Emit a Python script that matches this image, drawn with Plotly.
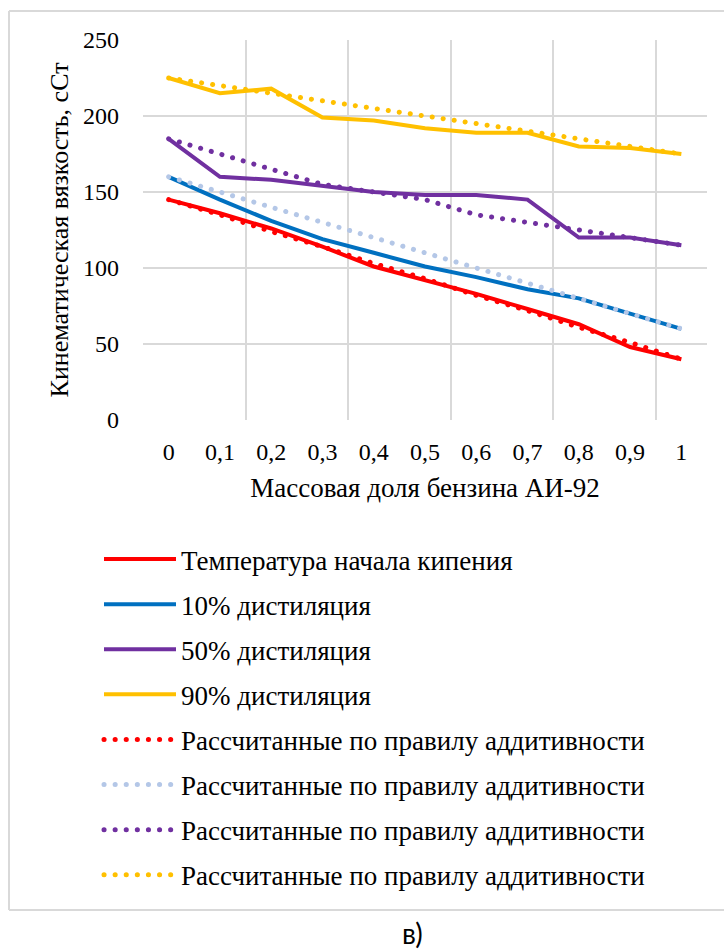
import plotly.graph_objects as go

categories = ["0", "0,1", "0,2", "0,3", "0,4", "0,5", "0,6", "0,7", "0,8", "0,9", "1"]

ibp_exp = [145, 136, 126, 114, 101, 92, 83, 73, 63, 48, 40]
d10_exp = [160, 145, 131, 119, 110, 101, 94, 86, 80, 70, 60]
d50_exp = [185, 160, 158, 154, 150, 148, 148, 145, 120, 120, 115]
d90_exp = [225, 215, 218, 199, 197, 192, 189, 189, 180, 179, 175]

ibp_calc = [145, 135, 124, 114, 103, 93, 82, 72, 61, 51, 40]
d10_calc = [160, 150, 140, 130, 120, 110, 100, 90, 80, 70, 60]
d50_calc = [185, 175, 165, 155, 150, 145, 135, 130, 125, 120, 115]
d90_calc = [225, 220, 215, 210, 205, 200, 195, 190, 185, 180, 175]

y_ticks = [0, 50, 100, 150, 200, 250]

solid_names = ["Температура начала кипения", "10% дистиляция", "50% дистиляция", "90% дистиляция"]
calc_name = "Рассчитанные по правилу аддитивности"

FONT = "Times New Roman, Liberation Serif, DejaVu Serif, serif"
x_idx = list(range(len(categories)))

fig = go.Figure()
solid_series = [ibp_exp, d10_exp, d50_exp, d90_exp]
solid_colors = ["#FF0000", "#0070C0", "#7030A0", "#FFC000"]
for i, (ys, name, col) in enumerate(zip(solid_series, solid_names, solid_colors)):
    fig.add_trace(go.Scatter(x=x_idx, y=ys, mode="lines", name=name,
                             line=dict(color=col, width=4), legendgroup=f"g{i}"))

calc_series = [ibp_calc, d10_calc, d50_calc, d90_calc]
calc_colors = ["#FF0000", "#B4C7E7", "#7030A0", "#FFC000"]
for i, (ys, col) in enumerate(zip(calc_series, calc_colors)):
    fig.add_trace(go.Scatter(x=x_idx, y=ys, mode="lines", name=calc_name,
                             line=dict(color=col, width=5, dash="5px,6px"),
                             legendgroup=f"c{i}"))

def px_x(p):
    return (p - 143) / 564.0

def px_y(p):
    return (420 - p) / 380.0

fig.update_layout(
    width=724, height=950,
    margin=dict(l=143, r=17, t=40, b=530),
    paper_bgcolor="white", plot_bgcolor="white",
    font=dict(family=FONT, size=24, color="black"),
    showlegend=True,
    legend=dict(x=px_x(99), y=px_y(535), xanchor="left", yanchor="top",
                traceorder="grouped", tracegroupgap=7, itemwidth=72,
                font=dict(family=FONT, size=27, color="black"),
                bgcolor="rgba(0,0,0,0)", borderwidth=0),
    xaxis=dict(range=[-0.5, 10.5], tickvals=x_idx, ticktext=categories,
               showgrid=False, zeroline=False, showline=False, ticks="",
               ticklabelstandoff=15, tickfont=dict(size=24),
               minor=dict(tickvals=[-0.5, 1.5, 3.5, 5.5, 7.5, 9.5], showgrid=True,
                          gridcolor="#D9D9D9", gridwidth=2),
               title=dict(text="Массовая доля бензина АИ-92", standoff=14,
                          font=dict(family=FONT, size=27))),
    yaxis=dict(range=[0, 250], tickvals=y_ticks, showgrid=True, gridcolor="#D9D9D9",
               gridwidth=2, zeroline=False, showline=False, ticks="",
               ticklabelstandoff=23, tickfont=dict(size=24),
               title=dict(text="Кинематическая вязкость, сСт", standoff=6,
                          font=dict(family=FONT, size=26))),
)

# white strip right of the plot area (keeps the right margin clean)
fig.add_shape(type="rect", xref="paper", yref="paper",
              x0=px_x(708), x1=px_x(730), y0=px_y(960), y1=px_y(-10),
              line=dict(width=0), fillcolor="white", layer="above")

frame_col = "#D9D9D9"
for (x0, y0, x1, y1) in [(9, 11, 724, 11), (9, 11, 9, 910), (9, 910, 724, 910)]:
    fig.add_shape(type="line", xref="paper", yref="paper",
                  x0=px_x(x0), x1=px_x(x1), y0=px_y(y0), y1=px_y(y1),
                  line=dict(color=frame_col, width=2), layer="above")

fig.add_annotation(text="в)", xref="paper", yref="paper", x=px_x(412), y=px_y(933),
                   showarrow=False, font=dict(family="Lato", size=28, color="black"),
                   xanchor="center", yanchor="middle")

post = """
document.documentElement.style.overflow = 'hidden';
document.documentElement.style.margin = '0';
document.body.style.margin = '0';
document.body.style.overflow = 'hidden';
var gd = document.getElementsByClassName('plotly-graph-div')[0];
function roundDots(){
  var paths = gd.querySelectorAll('path.js-line');
  paths.forEach(function(p){
    var da = p.style.strokeDasharray || '';
    if (da.indexOf('5px') === 0) {
      p.style.strokeLinecap = 'round';
      p.style.strokeDasharray = '0.1px, 11px';
    }
  });
}
roundDots();
"""

fig.write_html("out.html", post_script=post, config={"displayModeBar": False})
